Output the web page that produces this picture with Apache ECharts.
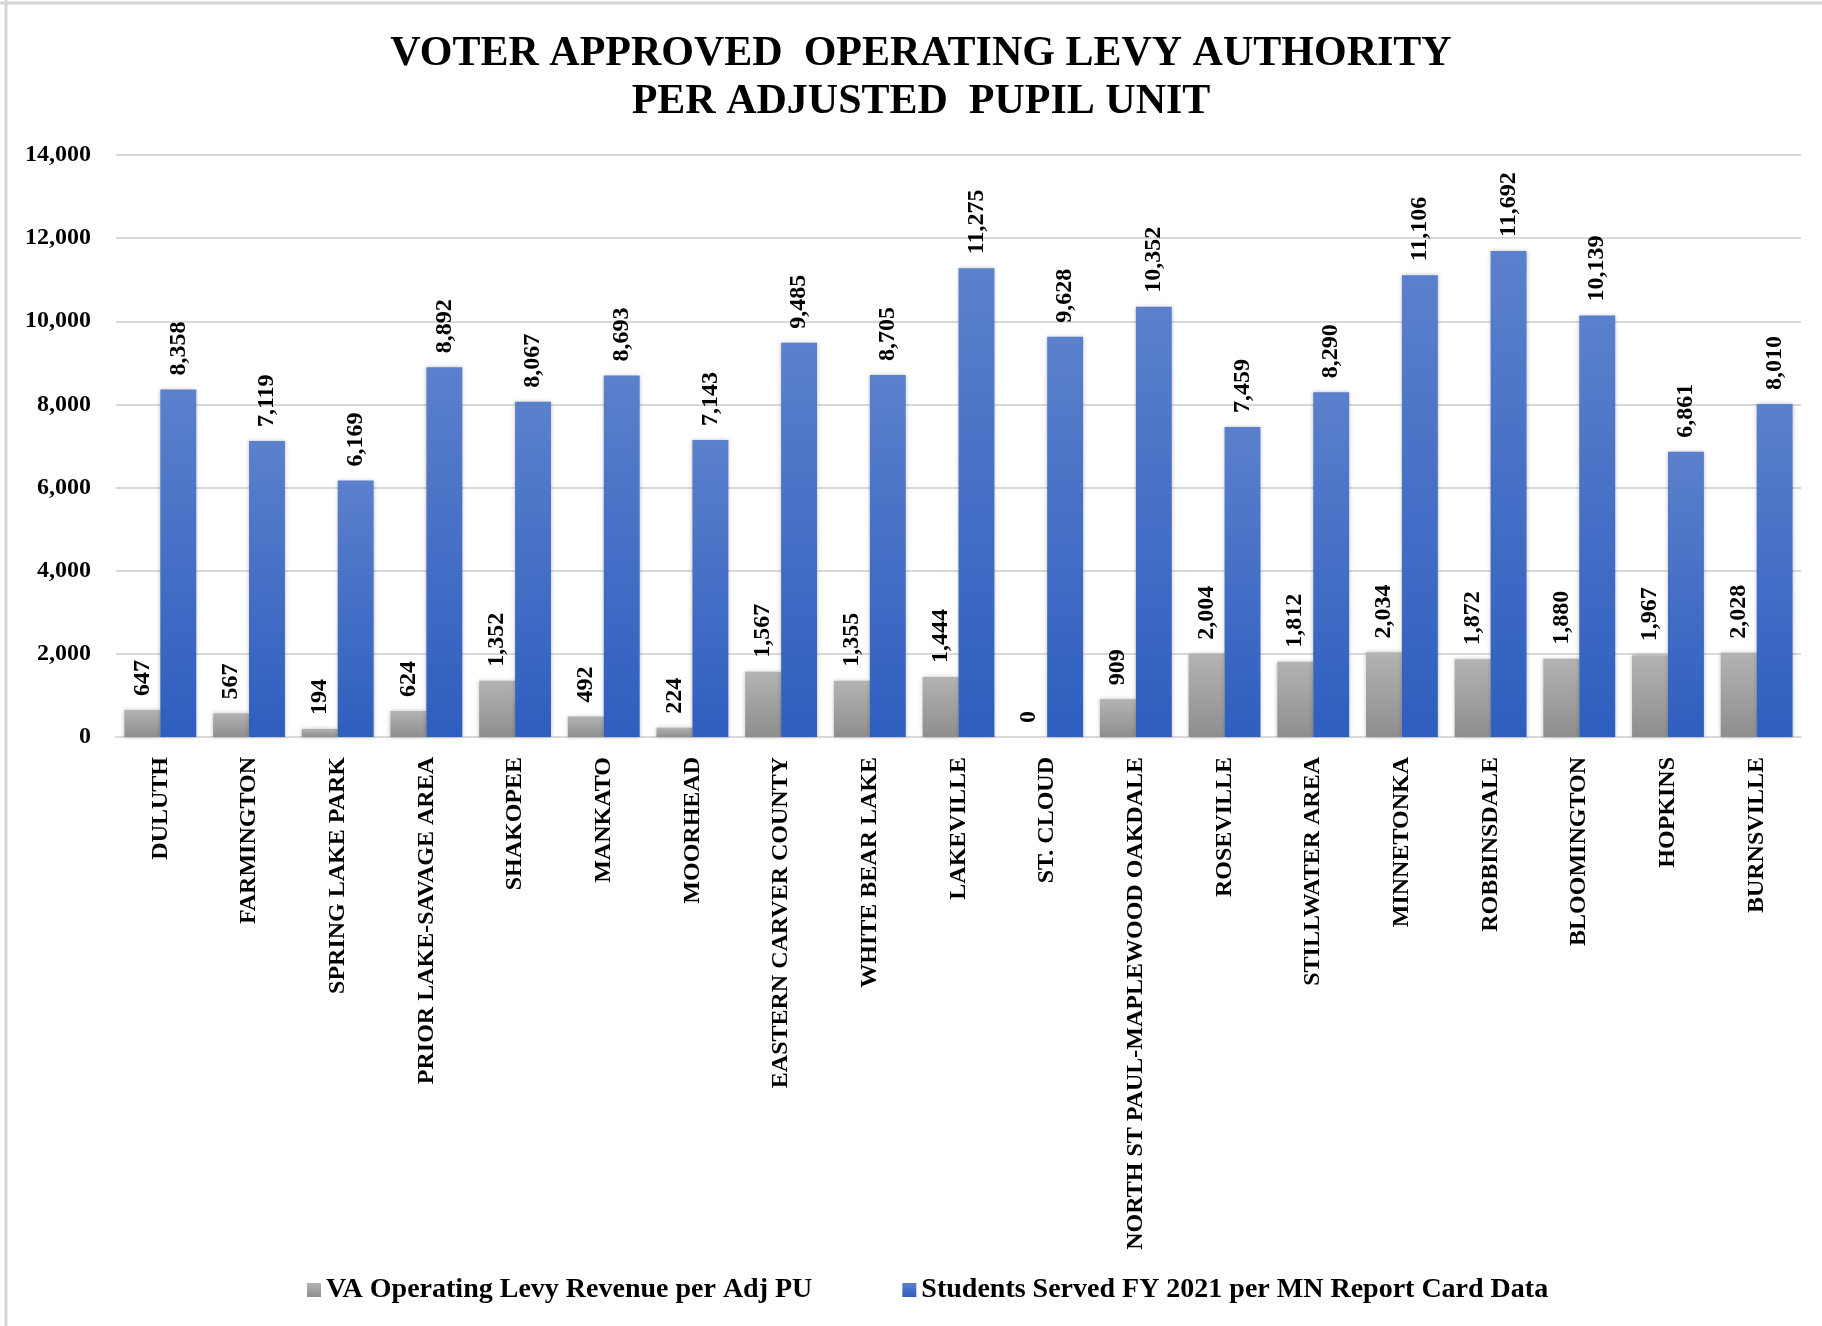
<!DOCTYPE html>
<html>
<head>
<meta charset="utf-8">
<script src="https://cdn.jsdelivr.net/npm/echarts@6/dist/echarts.min.js"></script>
<style>
html,body{margin:0;padding:0;background:#fff;}
#chart{width:1822px;height:1326px;}
</style>
</head>
<body>
<div id="chart"></div>
<script>
const titleLines = ['VOTER APPROVED  OPERATING LEVY AUTHORITY', 'PER ADJUSTED  PUPIL UNIT'];
const categories = ['DULUTH','FARMINGTON','SPRING LAKE PARK','PRIOR LAKE-SAVAGE AREA','SHAKOPEE','MANKATO','MOORHEAD','EASTERN CARVER COUNTY','WHITE BEAR LAKE','LAKEVILLE','ST. CLOUD','NORTH ST PAUL-MAPLEWOOD OAKDALE','ROSEVILLE','STILLWATER AREA','MINNETONKA','ROBBINSDALE','BLOOMINGTON','HOPKINS','BURNSVILLE'];
const seriesNames = ['VA Operating Levy Revenue per Adj PU', 'Students Served FY 2021 per MN Report Card Data'];
const levyValues = [647,567,194,624,1352,492,224,1567,1355,1444,0,909,2004,1812,2034,1872,1880,1967,2028];
const studentValues = [8358,7119,6169,8892,8067,8693,7143,9485,8705,11275,9628,10352,7459,8290,11106,11692,10139,6861,8010];
const yTicks = {min:0, max:14000, interval:2000};

const font = '"Liberation Serif","Times New Roman",serif';
const fmt = v => Number(v).toLocaleString('en-US');
const chart = echarts.init(document.getElementById('chart'));
const grad = (a,b) => new echarts.graphic.LinearGradient(0,0,0,1,[{offset:0,color:a},{offset:1,color:b}]);
const labelCfg = {
  show:true, position:'top', rotate:90, align:'left', verticalAlign:'middle', distance:14,
  fontFamily:font, fontWeight:'bold', fontSize:24, color:'#000',
  formatter: p => fmt(p.value)
};
chart.setOption({
  backgroundColor:'#fff',
  animation:false,
  title:{
    text: titleLines.join('\n'),
    left: 916, textAlign:'center', top: 25,
    textStyle:{fontFamily:font, fontWeight:'bold', fontSize:42, lineHeight:48, color:'#000'}
  },
  legend:{
    bottom: 17, left: 302, itemGap: 90, itemWidth:14, itemHeight:14,
    icon:'rect',
    textStyle:{fontFamily:font, fontWeight:'bold', fontSize:28, color:'#000'},
    data: seriesNames
  },
  grid:{left:116, right:21, top:155, bottom:589, containLabel:false},
  xAxis:{
    type:'category', data:categories,
    axisLine:{lineStyle:{color:'#d9d9d9', width:2}},
    axisTick:{show:false},
    axisLabel:{rotate:90, margin:20, interval:0, fontFamily:font, fontWeight:'bold', fontSize:24, color:'#000'}
  },
  yAxis:{
    type:'value', min:yTicks.min, max:yTicks.max, interval:yTicks.interval,
    axisLine:{show:false}, axisTick:{show:false},
    splitLine:{lineStyle:{color:'#d9d9d9', width:2}},
    axisLabel:{margin:25, fontFamily:font, fontWeight:'bold', fontSize:24, color:'#000', formatter: v => fmt(v)}
  },
  graphic:[
    {type:'line', shape:{x1:6,y1:0,x2:6,y2:1326}, style:{stroke:'#d6d6d6', lineWidth:3}, silent:true},
    {type:'line', shape:{x1:0,y1:3,x2:1822,y2:3}, style:{stroke:'#d6d6d6', lineWidth:3}, silent:true}
  ],
  series:[
    {
      name:seriesNames[0], type:'bar', data:levyValues,
      barGap:'0%', barCategoryGap:'19%',
      itemStyle:{color:grad('#b3b3b3','#8e8e8e'), shadowBlur:4, shadowColor:'rgba(0,0,0,0.25)'},
      label:labelCfg
    },
    {
      name:seriesNames[1], type:'bar', data:studentValues,
      barGap:'0%', barCategoryGap:'19%',
      itemStyle:{color:grad('#5b80cc','#2e5ebf'), shadowBlur:4, shadowColor:'rgba(0,0,0,0.25)'},
      label:labelCfg
    }
  ]
});
</script>
</body>
</html>
